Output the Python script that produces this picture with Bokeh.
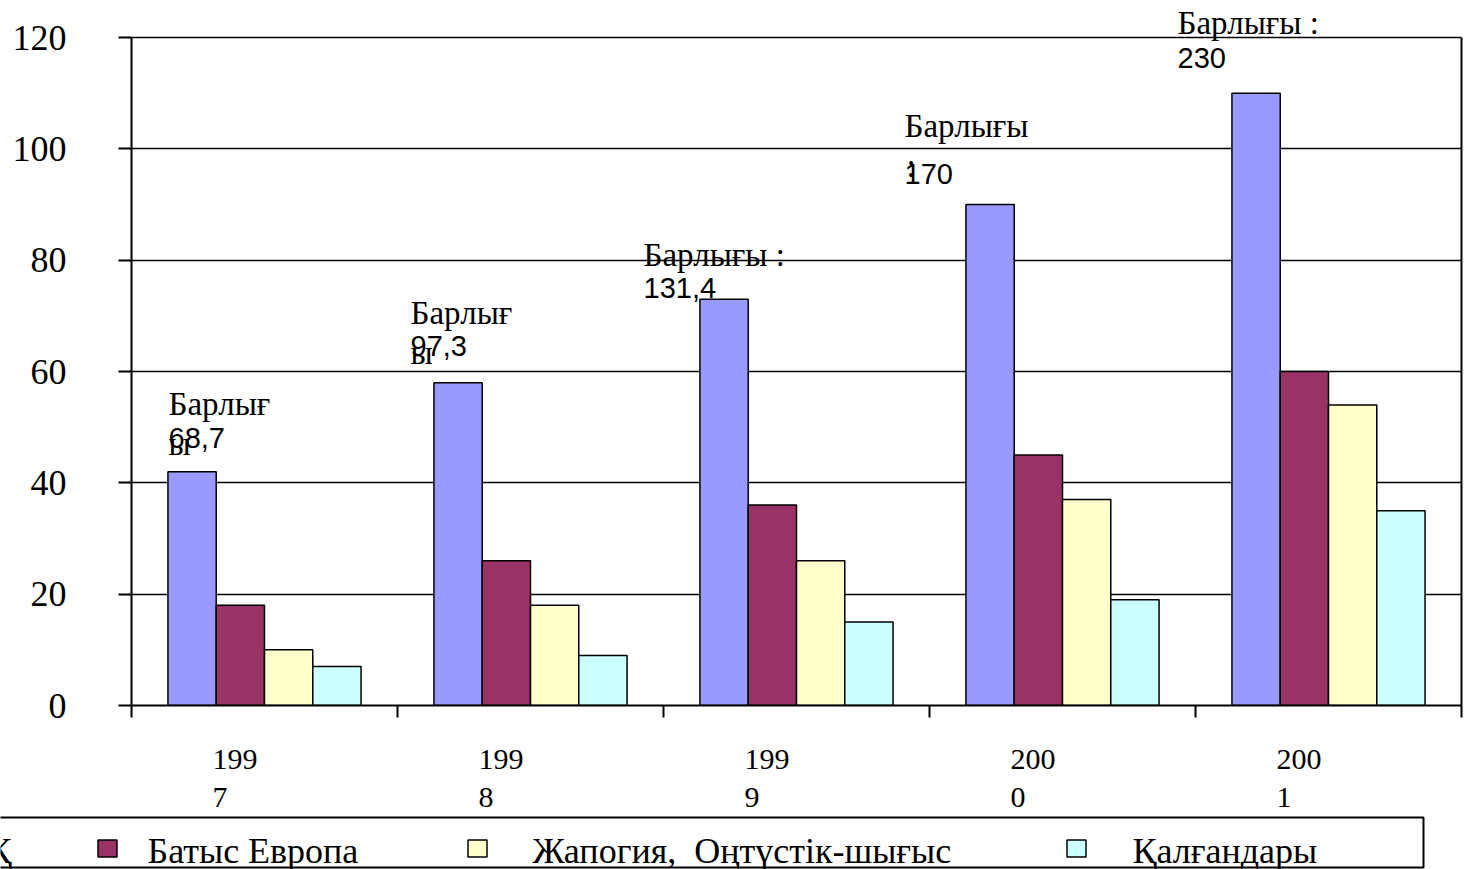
from bokeh.plotting import figure
from bokeh.models import Range1d, FixedTicker, Label, ColumnDataSource, LinearAxis
from bokeh.embed import file_html
from bokeh.resources import INLINE
from bokeh.core.properties import value

# ---------------- data ----------------
years = ["1997", "1998", "1999", "2000", "2001"]
series_names = ["Қ", "Батыс Европа", "Жапогия,\u00a0 Оңтүстік-шығыс", "Қалғандары"]
series_1 = [42, 58, 73, 90, 110]
west_europe = [18, 26, 36, 45, 60]
japan_se_asia = [10, 18, 26, 37, 54]
others = [7, 9, 15, 19, 35]
totals = [68.7, 97.3, 131.4, 170, 230]
total_word = "Барлығы"
y_ticks = [0, 20, 40, 60, 80, 100, 120]

# ---------------- styles / layout ----------------
colors = ["#9999FF", "#993366", "#FFFFCC", "#CCFFFF"]
bar_w = 0.1815
SERIF = "Liberation Serif"
SANS = "Liberation Sans"
W = 1473
FRAME_TOP_PAD = 37          # px between canvas top and the 120 line
FRAME_H = 668               # px from 0 to 120
y_top = 120 * (FRAME_H + FRAME_TOP_PAD) / FRAME_H
BASE_FIX = 9                # baseline correction for annotation labels (px)

p = figure(width=W, height=730, x_range=Range1d(0, 5), y_range=Range1d(0, y_top),
           output_backend="svg", toolbar_location=None,
           min_border_left=131, min_border_right=12, min_border_top=0, min_border_bottom=25)
p.background_fill_color = "white"
p.border_fill_color = "white"
p.outline_line_color = None

p.xgrid.grid_line_color = None
p.ygrid.ticker = FixedTicker(ticks=y_ticks)
p.ygrid.grid_line_color = "black"
p.ygrid.grid_line_width = 1.6

ya = p.yaxis[0]
ya.ticker = FixedTicker(ticks=y_ticks)
ya.bounds = (0, 120)
ya.major_tick_out = 13
ya.major_tick_in = 0
ya.minor_tick_line_color = None
ya.axis_line_width = 2
ya.axis_line_color = "black"
ya.major_tick_line_width = 2
ya.major_tick_line_color = "black"
ya.major_label_text_font = SERIF
ya.major_label_text_font_size = "36px"
ya.major_label_text_color = "black"
ya.major_label_standoff = 52

xa = p.xaxis[0]
xa.ticker = FixedTicker(ticks=[0, 1, 2, 3, 4, 5])
xa.major_tick_out = 12
xa.major_tick_in = 0
xa.minor_tick_line_color = None
xa.axis_line_width = 2
xa.axis_line_color = "black"
xa.major_tick_line_width = 2
xa.major_tick_line_color = "black"
xa.major_label_overrides = {0: "", 1: "", 2: "", 3: "", 4: "", 5: ""}
xa.major_label_standoff = 0

ra = LinearAxis(bounds=(0, 120), ticker=FixedTicker(ticks=[]), axis_line_width=2,
                axis_line_color="black", major_tick_out=0, major_tick_in=0,
                minor_tick_line_color=None, major_label_standoff=0)
p.add_layout(ra, "right")

all_series = [series_1, west_europe, japan_se_asia, others]
offsets = [-1.5 * bar_w, -0.5 * bar_w, 0.5 * bar_w, 1.5 * bar_w]
for s, off, c, name in zip(all_series, offsets, colors, series_names):
    src = ColumnDataSource(dict(x=[i + 0.5 + off for i in range(len(years))], top=s))
    p.vbar(x="x", top="top", width=bar_w, bottom=0, source=src,
           fill_color=c, line_color="black", line_width=1.5)

# total annotations
ann_dx = [-96, -120, -153, -158, -151]
ann_word_dy = [59, 61, 35, 70, 61]
ann_num_dy = [25, 28, 2, 22, 26]
word_line1 = ["Барлығ", "Барлығ", total_word + " :", total_word, total_word + " :"]
word_line2 = ["ы", "ы", "", ":", ""]


def fmt(v):
    return str(int(v)) if float(v).is_integer() else str(v).replace(".", ",")


for i in range(len(years)):
    base = series_1[i]
    p.add_layout(Label(x=i + 0.5, y=base, x_offset=ann_dx[i], y_offset=ann_word_dy[i] + BASE_FIX,
                       text=word_line1[i], text_font=SERIF, text_font_size="33px",
                       text_color="black", text_align="left", text_baseline="alphabetic"))
    if word_line2[i]:
        p.add_layout(Label(x=i + 0.5, y=base, x_offset=ann_dx[i] + (2 if word_line2[i] == ":" else 0),
                           y_offset=ann_word_dy[i] - 40 + BASE_FIX,
                           text=word_line2[i], text_font=SERIF, text_font_size="33px",
                           text_color="black", text_align="left", text_baseline="alphabetic"))
    p.add_layout(Label(x=i + 0.5, y=base, x_offset=ann_dx[i], y_offset=ann_num_dy[i] + BASE_FIX,
                       text=fmt(totals[i]), text_font=SANS, text_font_size="29px",
                       text_color="black", text_align="left", text_baseline="alphabetic"))

# ---------------- year labels strip (same x scale as the chart) ----------------
ys = figure(width=W, height=83, x_range=p.x_range, y_range=Range1d(813, 730),
            output_backend="svg", toolbar_location=None,
            x_axis_type=None, y_axis_type=None,
            min_border_left=131, min_border_right=12, min_border_top=0, min_border_bottom=0)
ys.outline_line_color = None
ys.grid.grid_line_color = None
ys.background_fill_color = "white"
ys.border_fill_color = "white"
xc = [i + 0.5 for i in range(len(years))]
ys.text(x=xc, y=[759] * len(years), text=[yr[:3] for yr in years], x_offset=-52,
        text_font=value(SERIF), text_font_size="30px", text_color="black",
        text_align="left", text_baseline="alphabetic")
ys.text(x=xc, y=[797] * len(years), text=[yr[3:] for yr in years], x_offset=-52,
        text_font=value(SERIF), text_font_size="30px", text_color="black",
        text_align="left", text_baseline="alphabetic")

# ---------------- legend strip ----------------
lg = figure(width=W, height=56, x_range=Range1d(0, W), y_range=Range1d(869, 813),
            output_backend="svg", toolbar_location=None,
            x_axis_type=None, y_axis_type=None, min_border=0)
lg.outline_line_color = None
lg.grid.grid_line_color = None
lg.background_fill_color = "white"
lg.border_fill_color = "white"

lg.quad(left=[-10], right=[1423], top=[817], bottom=[867],
        fill_color="white", line_color="black", line_width=2)
marker_x = [-60, 107, 477, 1076]
text_x = [-13, 147, 532, 1132]
lg.rect(x=marker_x, y=[848] * 4, width=19, height=17, fill_color=colors,
        line_color="black", line_width=1.5)
lg.text(x=text_x, y=[850] * 4, text=series_names, text_font=value(SERIF),
        text_font_size="36px", text_color="black", text_align="left",
        text_baseline="alphabetic")

open("out.html", "w").write(file_html([p, ys, lg], INLINE))
